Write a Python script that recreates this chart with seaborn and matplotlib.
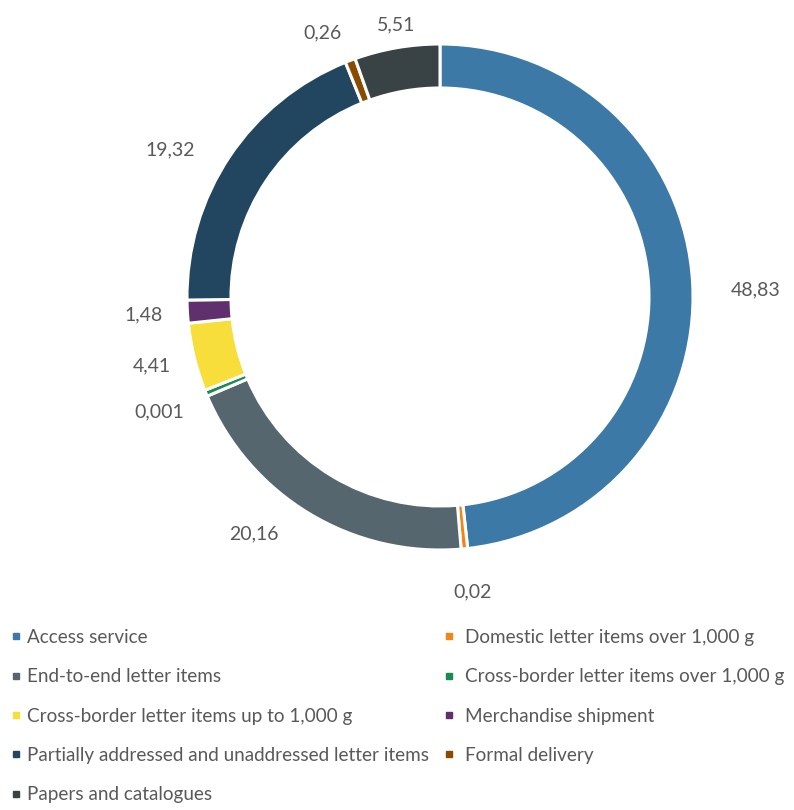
import matplotlib
matplotlib.use("Agg")
import matplotlib.pyplot as plt
import seaborn as sns
import numpy as np
from matplotlib.lines import Line2D

categories = [
    "Access service",
    "Domestic letter items over 1,000 g",
    "End-to-end letter items",
    "Cross-border letter items over 1,000 g",
    "Cross-border letter items up to 1,000 g",
    "Merchandise shipment",
    "Partially addressed and unaddressed letter items",
    "Formal delivery",
    "Papers and catalogues",
]
values = [48.83, 0.02, 20.16, 0.001, 4.41, 1.48, 19.32, 0.26, 5.51]
value_labels = ["48,83", "0,02", "20,16", "0,001", "4,41", "1,48", "19,32", "0,26", "5,51"]
colors = ["#3C79A7", "#F0861A", "#56666F", "#1A8A4E", "#F7DE3A",
          "#5F2F6E", "#22465F", "#8A4A00", "#394245"]
# label placement style: distance (outer radius units) and angle nudge (deg)
label_dist = [1.249, 1.173, 1.19, 1.198, 1.173, 1.174, 1.215, 1.144, 1.091]
label_nudge = [-1.8, 0.7, -7.0, -0.1, -0.3, 0.1, 5.1, 3.2, -0.7]

sns.set_theme(style="white")
plt.rcParams['font.family'] = ['Lato', 'DejaVu Sans']
text_color = "#595959"

W, H = 794, 810
R = 253.0
cx, cy = 440.0, 297.0
fig = plt.figure(figsize=(W / 100, H / 100), dpi=100)
ax = fig.add_axes([0, 0, 1, 1])

# tiny slices get a minimum visible width, as the original renderer does
min_visible = 0.4
display_vals = [v + min_visible if v < 1 else v for v in values]
pal = sns.color_palette(colors)
wedges, _ = ax.pie(display_vals, colors=pal, startangle=90, counterclock=False,
                   radius=1.0,
                   wedgeprops=dict(width=1 - 209 / 253, edgecolor="white", linewidth=2.2))

for w, lab, d, nd in zip(wedges, value_labels, label_dist, label_nudge):
    ang = np.deg2rad((w.theta1 + w.theta2) / 2 + nd)
    ax.text(d * np.cos(ang), d * np.sin(ang), lab, ha="center", va="center",
            fontsize=14, color=text_color)

ax.set_xlim(-cx / R, (W - cx) / R)
ax.set_ylim(-(H - cy) / R, cy / R)
ax.set_aspect("auto")
ax.axis("off")

def handle(c):
    return Line2D([], [], marker="s", linestyle="none", markersize=5,
                  markerfacecolor=c, markeredgecolor=c)

col1 = [0, 2, 4, 6, 8]
col2 = [1, 3, 5, 7]
common = dict(frameon=False, fontsize=13.6, labelspacing=1.18, handlelength=0.6,
              borderaxespad=0, borderpad=0, labelcolor=text_color, loc="upper left")
leg1 = fig.legend([handle(colors[i]) for i in col1], [categories[i] for i in col1],
                  bbox_to_anchor=(10 / W, 1 - 629 / H), handletextpad=0.3, **common)
leg2 = fig.legend([handle(colors[i]) for i in col2], [categories[i] for i in col2],
                  bbox_to_anchor=(443 / W, 1 - 629 / H), handletextpad=0.55, **common)

fig.savefig("out.png", dpi=100)
